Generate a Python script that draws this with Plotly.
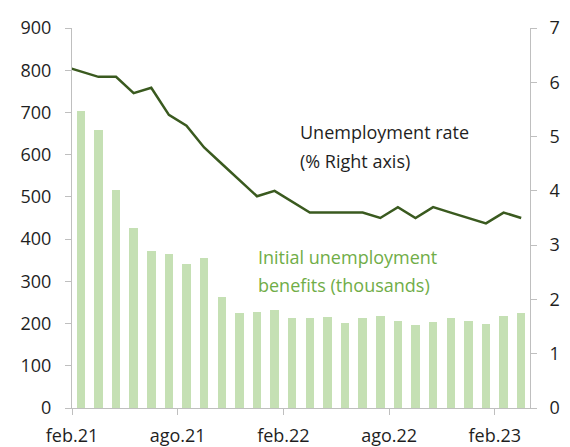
import plotly.graph_objects as go

# Months (bars: feb.21 .. mar.23)
bar_months = ["2021-02", "2021-03", "2021-04", "2021-05", "2021-06", "2021-07",
              "2021-08", "2021-09", "2021-10", "2021-11", "2021-12", "2022-01",
              "2022-02", "2022-03", "2022-04", "2022-05", "2022-06", "2022-07",
              "2022-08", "2022-09", "2022-10", "2022-11", "2022-12", "2023-01",
              "2023-02", "2023-03"]
claims = [704, 658, 516, 427, 371, 364, 341, 355, 263, 224, 227, 232, 212,
          213, 216, 201, 212, 219, 206, 197, 203, 212, 206, 198, 219, 226]

# Unemployment rate (%), jan.21 .. mar.23
line_months = ["2021-01"] + bar_months
unemp = [6.3, 6.2, 6.1, 6.1, 5.8, 5.9, 5.4, 5.2, 4.8, 4.5, 4.2, 3.9, 4.0, 3.8,
         3.6, 3.6, 3.6, 3.6, 3.5, 3.7, 3.5, 3.7, 3.6, 3.5, 3.4, 3.6, 3.5]

tick_months = ["2021-02", "2021-08", "2022-02", "2022-08", "2023-02"]
tick_labels = ["feb.21", "ago.21", "feb.22", "ago.22", "feb.23"]

origin = bar_months[0]


def month_index(m):
    y, mo = map(int, m.split("-"))
    y0, m0 = map(int, origin.split("-"))
    return (y - y0) * 12 + (mo - m0)


bar_x = [month_index(m) + 0.5 for m in bar_months]
line_x = [month_index(m) + 0.5 for m in line_months]
tick_x = [month_index(m) for m in tick_months]

FONT = "Open Sans"
TXT = "#1f1f1f"
AX = "#bfbfbf"
FS = 18

fig = go.Figure()
fig.add_trace(go.Bar(x=bar_x, y=claims, width=0.48, marker_color="#c5e0b4",
                     marker_line_width=0, name="Initial unemployment benefits",
                     yaxis="y"))
fig.add_trace(go.Scatter(x=line_x, y=unemp, mode="lines",
                         line=dict(color="#3a5a1f", width=2.5),
                         name="Unemployment rate", yaxis="y2"))

# page body has an 8px default margin, so the figure is 8px smaller
fig.update_layout(
    width=562, height=439,
    margin=dict(l=64, r=40, t=20, b=39),
    paper_bgcolor="white", plot_bgcolor="white",
    showlegend=False,
    font=dict(family=FONT, size=FS, color=TXT),
    xaxis=dict(range=[0, len(bar_months)], tickvals=tick_x, ticktext=tick_labels,
               showgrid=False, zeroline=False, showline=True, linecolor=AX,
               linewidth=1, ticks="outside", ticklen=6, tickcolor=AX,
               ticklabelstandoff=5, automargin=False),
    yaxis=dict(range=[0, 900], dtick=100, showgrid=False, zeroline=False,
               showline=True, linecolor=AX, linewidth=1, ticks="outside",
               ticklen=6, tickcolor=AX, ticklabelstandoff=10, automargin=False),
    yaxis2=dict(range=[0, 7], dtick=1, overlaying="y", side="right",
                showgrid=False, zeroline=False, showline=True, linecolor=AX,
                linewidth=1, ticks="outside", ticklen=6, tickcolor=AX,
                ticklabelstandoff=9, automargin=False),
    bargap=0,
)

ann = [
    ("Unemployment rate", 12.83, 0.727, TXT),
    ("(% Right axis)", 12.83, 0.651, TXT),
    ("Initial unemployment", 10.45, 0.398, "#70ad47"),
    ("benefits (thousands)", 10.45, 0.324, "#70ad47"),
]
for text, ax_, ay, col in ann:
    fig.add_annotation(text=text, x=ax_, y=ay, xref="x", yref="paper",
                       xanchor="left", yanchor="middle", showarrow=False,
                       font=dict(family=FONT, size=FS, color=col))

fig.write_html("out.html")
